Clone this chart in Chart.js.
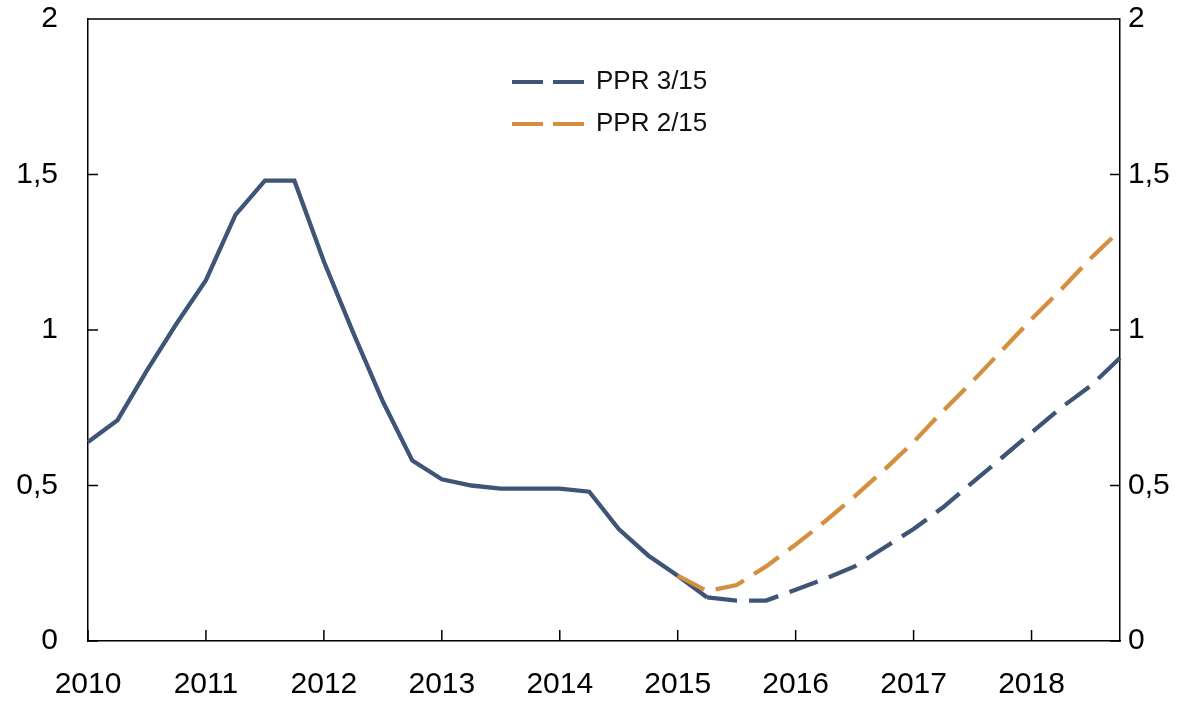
<!DOCTYPE html>
<html>
<head>
<meta charset="utf-8">
<script src="https://cdn.jsdelivr.net/npm/chart.js@4/dist/chart.umd.min.js"></script>
<style>
  html, body { margin: 0; padding: 0; background: #fff; }
  #wrap { width: 1201px; height: 701px; position: relative; }
</style>
</head>
<body>
<div id="wrap"><canvas id="chart"></canvas></div>
<script>
// --- data ---
const years = ['2010', '2011', '2012', '2013', '2014', '2015', '2016', '2017', '2018'];
const quarters = [];
years.forEach(y => { ['K1', 'K2', 'K3', 'K4'].forEach(q => quarters.push(y + q)); });

const history = [0.64, 0.71, 0.87, 1.02, 1.16, 1.37, 1.48, 1.48, 1.22, 0.99, 0.77, 0.58,
                 0.52, 0.50, 0.49, 0.49, 0.49, 0.48, 0.36, 0.275, 0.21, 0.14,
                 null, null, null, null, null, null, null, null, null, null, null, null, null, null];
const ppr315 = [null, null, null, null, null, null, null, null, null, null, null, null,
                null, null, null, null, null, null, null, null, null,
                0.14, 0.13, 0.13, 0.165, 0.20, 0.24, 0.30, 0.36, 0.43, 0.51, 0.59, 0.67, 0.75, 0.82, 0.91];
const ppr215 = [null, null, null, null, null, null, null, null, null, null, null, null,
                null, null, null, null, null, null, null, null,
                0.21, 0.16, 0.18, 0.24, 0.31, 0.385, 0.465, 0.55, 0.64, 0.74, 0.835, 0.935, 1.035, 1.13, 1.23, 1.32];
const yTicks = [0, 0.5, 1, 1.5, 2];

const BLUE = '#3e5577';
const ORANGE = '#d58f3e';
const FONT = "'Liberation Sans', Arial, Helvetica, sans-serif";

// --- frame, inward ticks and legend ---
const framePlugin = {
    id: 'frame',
    afterDraw(chart) {
        const ctx = chart.ctx;
        const a = chart.chartArea;
        const x = chart.scales.x;
        const y = chart.scales.y;
        ctx.save();
        ctx.strokeStyle = '#000';
        ctx.lineWidth = 1.5;
        ctx.beginPath();
        ctx.moveTo(a.left, a.top);
        ctx.lineTo(a.right, a.top);
        yTicks.forEach(v => {
            const py = y.getPixelForValue(v);
            ctx.moveTo(a.left, py); ctx.lineTo(a.left + 10, py);
            ctx.moveTo(a.right, py); ctx.lineTo(a.right - 10, py);
        });
        quarters.forEach((q, i) => {
            if (q.endsWith('K1')) {
                const px = x.getPixelForValue(i);
                ctx.moveTo(px, a.bottom); ctx.lineTo(px, a.bottom - 11);
            }
        });
        ctx.stroke();

        // legend
        const items = [chart.data.datasets[1], chart.data.datasets[2]];
        items.forEach((ds, i) => {
            const ly = 82 + i * 42;
            ctx.strokeStyle = ds.borderColor;
            ctx.lineWidth = 4;
            ctx.setLineDash([31, 10]);
            ctx.beginPath();
            ctx.moveTo(512, ly);
            ctx.lineTo(585, ly);
            ctx.stroke();
            ctx.setLineDash([]);
            ctx.fillStyle = '#111';
            ctx.font = '26px ' + FONT;
            ctx.textBaseline = 'middle';
            ctx.fillText(ds.label, 596, ly);
        });
        ctx.restore();
    }
};

const tickFont = { family: FONT, size: 30 };
const fmt = v => String(v).replace('.', ',');
const noPad = s => { s.paddingTop = 0; s.paddingBottom = 0; };

new Chart(document.getElementById('chart'), {
    type: 'line',
    data: {
        labels: quarters,
        datasets: [
            { label: 'Historikk', data: history, borderColor: BLUE, borderWidth: 4.3, pointRadius: 0, order: 2 },
            { label: 'PPR 3/15', data: ppr315, borderColor: BLUE, borderWidth: 4.3, borderDash: [30, 12], pointRadius: 0, order: 1 },
            { label: 'PPR 2/15', data: ppr215, borderColor: ORANGE, borderWidth: 4.3, borderDash: [30, 12], pointRadius: 0, order: 0 }
        ]
    },
    options: {
        responsive: true,
        maintainAspectRatio: false,
        animation: false,
        layout: { padding: { top: 19, left: 0, right: 0, bottom: 0 } },
        plugins: { legend: { display: false }, tooltip: { enabled: false } },
        elements: { line: { tension: 0, borderCapStyle: 'butt', borderJoinStyle: 'miter' } },
        scales: {
            x: {
                type: 'category',
                offset: false,
                grid: { display: false, drawTicks: false },
                border: { display: true, color: '#000', width: 1.5 },
                ticks: {
                    autoSkip: false, maxRotation: 0, padding: 26, color: '#000', font: tickFont,
                    callback: (v, i) => quarters[i].endsWith('K1') ? quarters[i].slice(0, 4) : ''
                },
                afterFit: s => { s.height = 60; s.paddingLeft = 0; s.paddingRight = 0; }
            },
            y: {
                position: 'left', min: 0, max: 2,
                grid: { display: false, drawTicks: false },
                border: { display: true, color: '#000', width: 1.5 },
                ticks: { stepSize: 0.5, padding: 30, color: '#000', font: tickFont, callback: fmt },
                afterFit: s => { s.width = 88; noPad(s); }
            },
            y2: {
                position: 'right', min: 0, max: 2,
                grid: { display: false, drawTicks: false },
                border: { display: true, color: '#000', width: 1.5 },
                ticks: { stepSize: 0.5, padding: 8, color: '#000', font: tickFont, callback: fmt },
                afterFit: s => { s.width = 81; noPad(s); }
            }
        }
    },
    plugins: [framePlugin]
});
</script>
</body>
</html>
